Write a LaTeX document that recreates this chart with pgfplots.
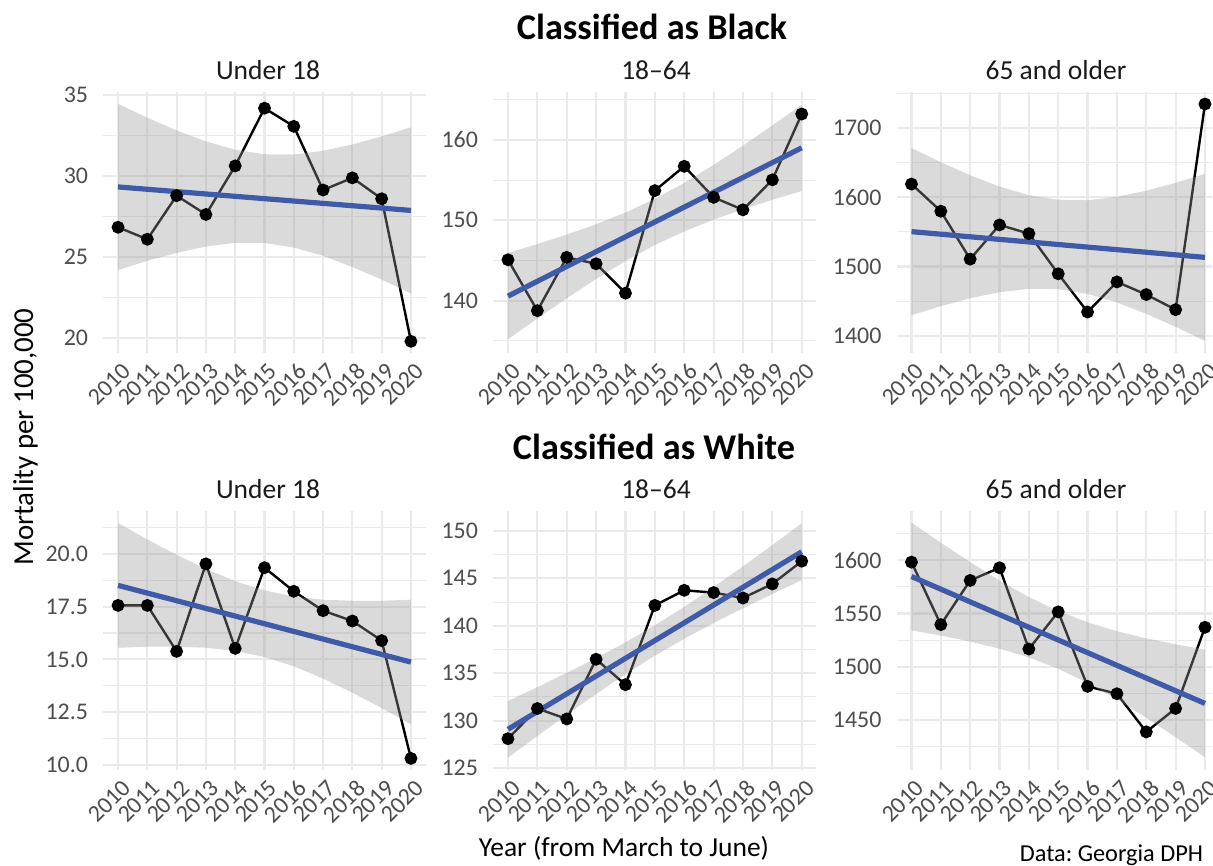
\documentclass[border=0pt]{standalone}
\usepackage{fontspec}
\setmainfont{Carlito}
\usepackage{pgfplots}
\pgfplotsset{compat=1.18}

\definecolor{gridc}{RGB}{235,233,235}
\definecolor{bandc}{RGB}{153,153,153}
\definecolor{trendc}{RGB}{63,91,168}
\definecolor{tickc}{RGB}{77,77,77}
\definecolor{stripc}{RGB}{26,26,26}

\pgfplotsset{
  panel/.style={
    scale only axis, anchor=south west,
    xmin=2009.5, xmax=2020.5,
    xtick={2010,2011,...,2020},
    axis line style={draw=none},
    major tick length=0pt, minor tick length=0pt,
    grid=both,
    major grid style={draw=gridc, line width=1.1bp},
    minor grid style={draw=gridc, line width=0.55bp},
    scaled ticks=false,
    /pgf/number format/1000 sep={},
    /pgf/number format/assume math mode=true,
    tick label style={font=\fontsize{12}{14}\selectfont, text=tickc},
    xticklabel style={yshift=-4bp, xshift=1.5bp, rotate=45, anchor=north east, inner sep=0pt},
    yticklabel style={anchor=east, inner sep=0pt, xshift=-7.5bp},
  },
  obs/.style={black, line width=1.2bp, mark=*, mark size=2.6bp, mark options={solid}},
  band/.style={fill=bandc, fill opacity=0.36, draw=none},
  trend/.style={trendc, line width=2.6bp},
}

\begin{document}
\frenchspacing
\begin{tikzpicture}
\useasboundingbox (0,0) rectangle (606.5bp,433bp);

% ---- Classified as Black ----
\begin{axis}[panel, at={(51.7bp,256.5bp)}, width=161.1bp, height=130.5bp,
  ymin=19.07, ymax=35.18, ytick={20,25,30,35}, minor ytick={22.5,27.5,32.5}]
\addplot[obs] coordinates {(2010,26.83)(2011,26.09)(2012,28.78)(2013,27.62)(2014,30.62)(2015,34.18)(2016,33.06)(2017,29.13)(2018,29.88)(2019,28.59)(2020,19.79)};
\addplot[band] coordinates {(2010,34.45)(2011,33.59)(2012,32.81)(2013,32.13)(2014,31.61)(2015,31.34)(2016,31.32)(2017,31.55)(2018,31.94)(2019,32.44)(2020,33.00)
  (2020,22.74)(2019,23.60)(2018,24.38)(2017,25.07)(2016,25.58)(2015,25.86)(2014,25.87)(2013,25.64)(2012,25.25)(2011,24.76)(2010,24.19)};
\addplot[trend] coordinates {(2010,29.32)(2020,27.87)};
\end{axis}

\begin{axis}[panel, at={(246.65bp,256.5bp)}, width=161.55bp, height=130.5bp,
  ymin=133.5, ymax=165.95, ytick={140,150,160}, minor ytick={135,145,155,165}]
\addplot[obs] coordinates {(2010,145.09)(2011,138.76)(2012,145.39)(2013,144.59)(2014,140.94)(2015,153.69)(2016,156.71)(2017,152.85)(2018,151.30)(2019,155.03)(2020,163.21)};
\addplot[band] coordinates {(2010,145.94)(2011,147.04)(2012,148.22)(2013,149.50)(2014,150.96)(2015,152.66)(2016,154.64)(2017,156.88)(2018,159.28)(2019,161.80)(2020,164.38)
  (2020,153.64)(2019,152.54)(2018,151.36)(2017,150.08)(2016,148.62)(2015,146.92)(2014,144.94)(2013,142.70)(2012,140.30)(2011,137.78)(2010,135.20)};
\addplot[trend] coordinates {(2010,140.57)(2020,159.01)};
\end{axis}

\begin{axis}[panel, at={(448.4bp,256.5bp)}, width=157.6bp, height=130.5bp, xmax=2020.24,
  ymin=1375, ymax=1752, ytick={1400,1500,1600,1700}, minor ytick={1450,1550,1650,1750}]
\addplot[obs] coordinates {(2010,1619.0)(2011,1579.8)(2012,1510.6)(2013,1560.0)(2014,1547.4)(2015,1489.4)(2016,1434.2)(2017,1477.7)(2018,1459.4)(2019,1437.6)(2020,1734.6)};
\addplot[band] coordinates {(2010,1671.0)(2011,1650.6)(2012,1631.8)(2013,1615.4)(2014,1603.0)(2015,1596.2)(2016,1595.6)(2017,1600.6)(2018,1609.4)(2019,1620.8)(2020,1633.8)
  (2020,1392.4)(2019,1412.8)(2018,1431.6)(2017,1448.0)(2016,1460.4)(2015,1467.2)(2014,1467.8)(2013,1462.8)(2012,1454.0)(2011,1442.6)(2010,1429.6)};
\addplot[trend] coordinates {(2010,1550.3)(2020,1513.1)};
\end{axis}

% ---- Classified as White ----
\begin{axis}[panel, at={(51.7bp,48bp)}, width=161.1bp, height=129.5bp,
  ymin=9.75, ymax=22.04, ytick={10,12.5,15,17.5,20}, minor ytick={11.25,13.75,16.25,18.75,21.25},
  yticklabel style={/pgf/number format/.cd, fixed, fixed zerofill, precision=1}]
\addplot[obs] coordinates {(2010,17.56)(2011,17.56)(2012,15.38)(2013,19.53)(2014,15.52)(2015,19.35)(2016,18.23)(2017,17.31)(2018,16.82)(2019,15.89)(2020,10.30)};
\addplot[band] coordinates {(2010,21.47)(2011,20.69)(2012,19.96)(2013,19.29)(2014,18.71)(2015,18.27)(2016,17.98)(2017,17.83)(2018,17.78)(2019,17.78)(2020,17.83)
  (2020,11.91)(2019,12.69)(2018,13.42)(2017,14.09)(2016,14.67)(2015,15.11)(2014,15.40)(2013,15.55)(2012,15.60)(2011,15.60)(2010,15.55)};
\addplot[trend] coordinates {(2010,18.51)(2020,14.87)};
\end{axis}

\begin{axis}[panel, at={(246.65bp,48bp)}, width=161.55bp, height=129.5bp,
  ymin=124.8, ymax=152.1, ytick={125,130,...,150}, minor ytick={127.5,132.5,...,147.5}]
\addplot[obs] coordinates {(2010,128.10)(2011,131.28)(2012,130.18)(2013,136.47)(2014,133.79)(2015,142.15)(2016,143.74)(2017,143.50)(2018,142.93)(2019,144.41)(2020,146.81)};
\addplot[band] coordinates {(2010,132.08)(2011,133.54)(2012,135.04)(2013,136.60)(2014,138.25)(2015,140.05)(2016,141.99)(2017,144.08)(2018,146.26)(2019,148.51)(2020,150.79)
  (2020,144.81)(2019,143.35)(2018,141.85)(2017,140.29)(2016,138.64)(2015,136.85)(2014,134.90)(2013,132.81)(2012,130.63)(2011,128.38)(2010,126.10)};
\addplot[trend] coordinates {(2010,129.09)(2020,147.80)};
\end{axis}

\begin{axis}[panel, at={(448.4bp,48bp)}, width=157.6bp, height=129.5bp, xmax=2020.24,
  ymin=1403, ymax=1646.2, ytick={1450,1500,1550,1600}, minor ytick={1425,1475,1525,1575,1625}]
\addplot[obs] coordinates {(2010,1598.2)(2011,1539.5)(2012,1581.0)(2013,1592.9)(2014,1516.6)(2015,1551.5)(2016,1481.5)(2017,1474.6)(2018,1438.8)(2019,1460.8)(2020,1537.0)};
\addplot[band] coordinates {(2010,1635.3)(2011,1616.4)(2012,1598.2)(2013,1580.9)(2014,1565.4)(2015,1552.2)(2016,1541.6)(2017,1533.3)(2018,1526.6)(2019,1521.0)(2020,1516.1)
  (2020,1414.9)(2019,1433.8)(2018,1452.1)(2017,1469.3)(2016,1484.8)(2015,1498.1)(2014,1508.7)(2013,1516.9)(2012,1523.6)(2011,1529.2)(2010,1534.1)};
\addplot[trend] coordinates {(2010,1584.7)(2020,1465.5)};
\end{axis}

% titles and labels
\node[anchor=base, font=\bfseries\fontsize{18.2}{20}\selectfont] at (326bp,413bp) {Classified as Black};
\node[anchor=base, font=\bfseries\fontsize{18.2}{20}\selectfont] at (327bp,203bp) {Classified as White};
\foreach \y in {393bp,183.5bp} {
  \node[anchor=base, text=stripc, font=\fontsize{13.8}{15}\selectfont] at (134bp,\y) {Under 18};
  \node[anchor=base, text=stripc, font=\fontsize{13.8}{15}\selectfont] at (328bp,\y) {18–64};
  \node[anchor=base, text=stripc, font=\fontsize{13.8}{15}\selectfont] at (528bp,\y) {65 and older};
}
\node[anchor=base, rotate=90, font=\fontsize{14.5}{16}\selectfont] at (16.5bp,214.5bp) {Mortality per 100,000};
\node[anchor=base, font=\fontsize{13.8}{16}\selectfont] at (312bp,5bp) {Year (from March to June)};
\node[anchor=base east, font=\fontsize{12.2}{14}\selectfont] at (605bp,2.5bp) {Data: Georgia DPH};
\end{tikzpicture}
\end{document}
